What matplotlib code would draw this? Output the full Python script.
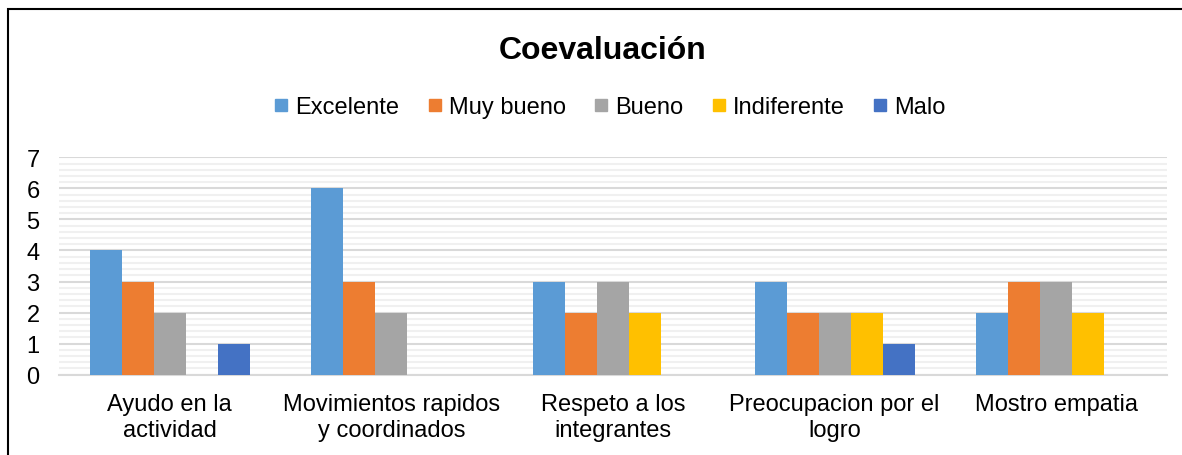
import matplotlib.pyplot as plt
import numpy as np
from matplotlib.lines import Line2D
from matplotlib.patches import Rectangle
from matplotlib.ticker import MultipleLocator

plt.rcParams['font.family'] = ['Liberation Sans', 'DejaVu Sans']

categorias = ["Ayudo en la\nactividad", "Movimientos rapidos\ny coordinados",
              "Respeto a los\nintegrantes", "Preocupacion por el\nlogro", "Mostro empatia"]
series = ["Excelente", "Muy bueno", "Bueno", "Indiferente", "Malo"]
excelente = [4, 6, 3, 3, 2]
muy_bueno = [3, 3, 2, 2, 3]
bueno = [2, 2, 3, 2, 3]
indiferente = [0, 0, 2, 2, 2]
malo = [1, 0, 0, 1, 0]
colores = ["#5B9BD5", "#ED7D31", "#A5A5A5", "#FFC000", "#4472C4"]

valores = [excelente, muy_bueno, bueno, indiferente, malo]

fig = plt.figure(figsize=(11.82, 4.56), dpi=100)
ax = fig.add_axes([59 / 1182, 1 - 375.7 / 456, (1167 - 59) / 1182, (375.7 - 158.3) / 456])

x = np.arange(len(categorias))
w = 0.1444
for i, (vals, col) in enumerate(zip(valores, colores)):
    ax.bar(x + (i - 2) * w, vals, width=w, color=col, zorder=3)

ax.set_xlim(-0.5, len(categorias) - 0.5)
ax.set_ylim(0, 7)
ax.yaxis.set_major_locator(MultipleLocator(1))
ax.yaxis.set_minor_locator(MultipleLocator(0.2))
ax.grid(axis='y', which='major', color='#D9D9D9', linewidth=1.5, zorder=0)
ax.grid(axis='y', which='minor', color='#F0F0F0', linewidth=1.5, zorder=0)
ax.set_xticks(x)
ax.set_xticklabels(categorias, fontsize=17, linespacing=1.25)
ax.tick_params(axis='y', which='both', length=0, labelsize=17, pad=14)
ax.tick_params(axis='x', length=0, pad=13)
for s in ['top', 'right', 'left']:
    ax.spines[s].set_visible(False)
ax.spines['bottom'].set_color('#D9D9D9')
ax.spines['bottom'].set_linewidth(1.5)

fig.text(0.510, 1 - 51 / 456, "Coevaluación", ha='center', va='center',
         fontsize=23, fontweight='bold')

handles = [Line2D([], [], marker='s', linestyle='none', markersize=8.5,
                  markerfacecolor=c, markeredgecolor=c) for c in colores]
fig.legend(handles, series, loc='center', bbox_to_anchor=(610 / 1182, 1 - 108 / 456),
           ncol=5, frameon=False, fontsize=17, handlelength=0.6, handletextpad=0.3,
           columnspacing=1.2, borderpad=0)

fig.patches.append(Rectangle((7.5 / 1182, -0.1), 1.2, 1 - 9.5 / 456 + 0.1,
                             transform=fig.transFigure, fill=False,
                             edgecolor='black', linewidth=1.5))

fig.savefig('out.png', dpi=100)
